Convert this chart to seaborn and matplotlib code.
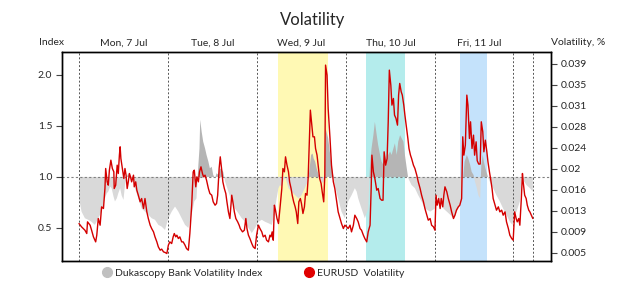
import matplotlib
matplotlib.use("Agg")
import matplotlib.pyplot as plt
from matplotlib.lines import Line2D
import numpy as np
import pandas as pd
import seaborn as sns

# ==================== data (hours from Mon 00:00) ====================
index_hours = [0, 0.7, 1.6, 2.5, 3.4, 4.3, 5.2, 6.1, 7.0, 7.5, 7.9, 8.4, 8.8, 9.3, 9.7, 10.2, 10.6, 11.1,
               11.5, 12.0, 12.4, 12.9, 13.3, 13.8, 14.2, 14.7, 15.1, 16.0, 16.9, 17.8, 18.7, 19.6, 20.5,
               21.4, 22.3, 23.2,
               24.1, 25.0, 25.9, 26.8, 27.7, 28.6, 29.5, 29.9, 30.4, 31.1, 31.7, 32.2, 32.5, 32.7, 33.1,
               33.5, 34.0, 34.4, 34.9, 35.3, 35.8, 36.2, 36.7, 37.1, 37.6, 38.0, 38.5, 38.9, 39.4, 40.3,
               41.2, 42.1, 43.0, 43.9, 44.8, 45.7, 46.6,
               47.5, 47.9, 48.4, 49.3, 50.2, 51.1, 52.0, 52.4, 52.9, 53.3, 53.8, 54.2, 54.7, 55.1, 55.6,
               56.0, 56.5, 57.4, 58.3, 59.2, 60.0, 60.9, 61.7, 62.1, 62.6, 63.0, 63.3, 63.7, 64.1, 64.5,
               65.0, 65.4, 65.9, 66.3, 66.5, 67.2, 68.1, 69.0, 69.9, 70.8, 71.7,
               72.6, 73.5, 74.4, 74.9, 75.3, 76.2, 77.1, 78.0, 78.5, 78.9, 79.4, 79.8, 80.3, 80.7, 81.2,
               81.6, 82.1, 82.5, 83.0, 83.4, 83.9, 84.3, 84.8, 85.2, 85.7, 86.1, 86.6, 87.0, 87.5, 87.9,
               88.4, 88.8, 89.7, 90.6, 91.5, 92.4, 93.3,
               94.7, 96.0, 96.5, 97.4, 98.3, 99.2, 100.1, 101.0, 101.9, 102.8, 103.5, 104.0, 104.6, 105.0,
               105.5, 105.9, 106.4, 106.8, 107.3, 107.7, 108.2, 108.5, 108.9, 109.2, 109.6, 110.0, 110.4,
               110.8, 111.7, 112.6, 113.5, 114.4, 115.3, 116.2, 116.9, 117.3, 118.0, 118.9, 119.4, 119.8,
               120.7, 121.6, 122.4]
index_values = [0.79, 0.66, 0.595, 0.58, 0.56, 0.53, 0.595, 0.66, 0.79, 0.84, 0.856, 0.905, 0.89, 0.81,
                0.76, 0.79, 0.84, 0.89, 0.82, 0.775, 0.92, 1.0, 1.036, 0.987, 1.0, 0.954, 0.89, 0.79,
                0.69, 0.66, 0.63, 0.595, 0.58, 0.53, 0.513, 0.48,
                0.595, 0.66, 0.71, 0.66, 0.595, 0.53, 0.50, 0.56, 0.63, 0.76, 0.79, 1.118, 1.28, 1.56,
                1.44, 1.346, 1.28, 1.216, 1.15, 1.085, 1.10, 1.02, 0.987, 1.036, 1.02, 1.085, 1.07, 1.05,
                0.954, 0.856, 0.76, 0.69, 0.644, 0.595, 0.56, 0.50, 0.45,
                0.50, 0.53, 0.56, 0.58, 0.56, 0.546, 0.53, 0.595, 0.69, 0.79, 0.89, 0.92, 0.905, 0.954,
                1.0, 0.954, 0.89, 0.856, 0.82, 0.79, 0.82, 0.89, 0.954, 1.05, 1.216, 1.23, 1.18, 1.15,
                1.085, 1.036, 0.987, 0.954, 0.94, 1.02, 1.477, 1.38, 1.118, 0.92, 0.79, 0.66, 0.595,
                0.76, 0.82, 0.89, 0.856, 0.79, 0.69, 0.595, 0.69, 1.118, 1.28, 1.41, 1.54, 1.41, 1.31,
                1.216, 1.15, 1.118, 1.216, 1.15, 1.216, 1.25, 1.216, 1.28, 1.33, 1.216, 1.346, 1.41,
                1.38, 1.346, 1.216, 1.085, 0.987, 0.92, 0.89, 0.82, 0.76, 0.69,
                0.66, 0.69, 0.82, 0.76, 0.69, 0.66, 0.63, 0.595, 0.66, 0.725, 0.954, 1.15, 1.216, 1.18,
                1.118, 1.05, 1.02, 0.954, 0.89, 0.82, 0.79, 1.118, 1.216, 1.15, 1.085, 1.036, 0.987,
                0.954, 0.89, 0.82, 0.76, 0.69, 0.63, 0.56, 0.53, 0.63, 0.66, 0.76, 0.987, 0.97, 0.92,
                0.89, 0.856]

vol_hours = [0, 0.7, 1.6, 2.1, 2.3, 3.0, 3.4, 3.9, 4.5, 4.8, 5.2, 5.7, 6.1, 6.6, 7.0, 7.2, 7.6, 7.9, 8.2,
             8.6, 9.0, 9.4, 9.5, 9.9, 10.3, 10.6, 10.9, 11.1, 11.3, 11.7, 12.1, 12.4, 12.7, 13.0, 13.3,
             13.6, 13.9, 14.2, 14.7, 14.9, 15.3, 15.6, 16.0, 16.5, 16.9, 17.4, 17.8, 18.3, 18.7, 19.2,
             19.6, 20.1, 20.5, 21.0, 21.4, 21.9, 22.3, 22.8, 23.2, 23.7,
             24.1, 24.5, 25.0, 25.4, 25.7, 26.1, 26.4, 26.8, 27.2, 27.7, 28.1, 28.6, 29.0, 29.5, 29.9,
             30.4, 30.8, 31.1, 31.5, 31.8, 32.2, 32.5, 32.9, 33.3, 33.6, 34.0, 34.4, 34.9, 35.3, 35.8,
             36.2, 36.7, 37.1, 37.4, 37.8, 38.1, 38.5, 38.8, 39.2, 39.6, 39.9, 40.3, 40.7, 41.2, 41.5,
             41.9, 42.3, 42.8, 43.2, 43.5, 44.1, 44.6, 45.0, 45.3, 45.7, 46.1, 46.6, 47.0, 47.5,
             47.9, 48.4, 48.8, 49.3, 49.7, 50.2, 50.6, 51.1, 51.5, 51.8, 52.1, 52.4, 52.7, 53.0, 53.4,
             53.8, 54.2, 54.7, 55.0, 55.4, 55.7, 56.1, 56.5, 56.8, 57.2, 57.5, 57.9, 58.3, 58.6, 59.0,
             59.3, 59.7, 60.0, 60.4, 60.8, 61.1, 61.5, 61.8, 62.1, 62.4, 62.7, 63.1, 63.5, 63.8, 64.2,
             64.5, 64.9, 65.3, 65.6, 66.0, 66.3, 66.5, 66.9, 67.2, 67.7, 68.1, 68.6, 69.0, 69.5, 69.9,
             70.4, 70.8, 71.3, 71.7,
             72.2, 72.6, 73.1, 73.5, 74.0, 74.4, 74.9, 75.3, 75.8, 76.2, 76.7, 77.1, 77.6, 78.0, 78.5,
             78.8, 79.0, 79.4, 79.8, 80.3, 80.7, 81.2, 81.6, 82.0, 82.3, 82.7, 83.1, 83.4, 83.7, 84.1,
             84.4, 84.8, 85.1, 85.5, 85.9, 86.2, 86.5, 86.9, 87.2, 87.6, 87.9, 88.3, 88.7, 89.0, 89.4,
             89.7, 90.2, 90.6, 91.1, 91.5, 92.0, 92.4, 92.9, 93.3, 93.8, 94.2,
             94.7, 95.1, 95.6, 96.0, 96.3, 96.6, 97.0, 97.4, 97.7, 98.1, 98.4, 98.7, 99.2, 99.6, 100.1,
             100.5, 101.0, 101.4, 101.8, 102.3, 102.7, 103.2, 103.5, 103.8, 104.2, 104.6, 104.9, 105.3,
             105.6, 106.0, 106.4, 106.7, 107.1, 107.4, 107.8, 108.2, 108.5, 108.9, 109.2, 109.6, 110.0,
             110.3, 110.7, 111.0, 111.4, 111.7, 112.2, 112.6, 113.1, 113.5, 114.0, 114.4, 114.9, 115.3,
             115.8, 116.2, 116.7, 117.1, 117.5, 117.9, 118.2, 118.6, 118.9, 119.3, 119.6, 119.8, 120.2,
             120.6, 120.9, 121.3, 121.6, 122.0, 122.4]
vol_values = [0.0103, 0.0097, 0.0091, 0.0085, 0.0106, 0.0100, 0.0091, 0.0079, 0.0070, 0.0082, 0.0112,
              0.0100, 0.0133, 0.0130, 0.0166, 0.0202, 0.0178, 0.0172, 0.0199, 0.0217, 0.0202, 0.0196,
              0.0166, 0.0172, 0.0208, 0.0193, 0.0226, 0.0241, 0.0220, 0.0202, 0.0184, 0.0202, 0.0190,
              0.0166, 0.0178, 0.0193, 0.0187, 0.0178, 0.0190, 0.0169, 0.0178, 0.0163, 0.0154, 0.0142,
              0.0148, 0.0130, 0.0148, 0.0124, 0.0112, 0.0100, 0.0094, 0.0088, 0.0079, 0.0070, 0.0061,
              0.0055, 0.0057, 0.0052, 0.0051, 0.0049,
              0.0064, 0.0070, 0.0067, 0.0079, 0.0085, 0.0079, 0.0082, 0.0076, 0.0079, 0.0070, 0.0070,
              0.0064, 0.0058, 0.0055, 0.0085, 0.0136, 0.0196, 0.0199, 0.0169, 0.0187, 0.0178, 0.0196,
              0.0205, 0.0193, 0.0187, 0.0190, 0.0181, 0.0166, 0.0157, 0.0154, 0.0142, 0.0136, 0.0139,
              0.0154, 0.0202, 0.0223, 0.0199, 0.0178, 0.0166, 0.0157, 0.0142, 0.0124, 0.0112, 0.0154,
              0.0142, 0.0124, 0.0112, 0.0106, 0.0100, 0.0094, 0.0088, 0.0091, 0.0112, 0.0094, 0.0082,
              0.0076, 0.0067, 0.0061, 0.0058,
              0.0082, 0.0100, 0.0094, 0.0088, 0.0079, 0.0082, 0.0073, 0.0070, 0.0082, 0.0079, 0.0088,
              0.0073, 0.0136, 0.0127, 0.0112, 0.0103, 0.0130, 0.0166, 0.0202, 0.0196, 0.0223, 0.0208,
              0.0196, 0.0178, 0.0166, 0.0154, 0.0142, 0.0133, 0.0124, 0.0103, 0.0142, 0.0148, 0.0139,
              0.0121, 0.0133, 0.0157, 0.0154, 0.0184, 0.0244, 0.0307, 0.0286, 0.0259, 0.0259, 0.0238,
              0.0226, 0.0208, 0.0184, 0.0175, 0.0160, 0.0142, 0.0190, 0.0388, 0.0370, 0.0310, 0.0256,
              0.0208, 0.0178, 0.0166, 0.0142, 0.0124, 0.0112, 0.0103, 0.0094, 0.0100,
              0.0097, 0.0094, 0.0100, 0.0088, 0.0100, 0.0118, 0.0112, 0.0106, 0.0094, 0.0091, 0.0082,
              0.0076, 0.0070, 0.0088, 0.0100, 0.0166, 0.0226, 0.0196, 0.0184, 0.0163, 0.0166, 0.0148,
              0.0145, 0.0145, 0.0232, 0.0208, 0.0220, 0.0286, 0.0379, 0.0352, 0.0316, 0.0328, 0.0298,
              0.0292, 0.0280, 0.0334, 0.0355, 0.0340, 0.0334, 0.0316, 0.0298, 0.0277, 0.0256, 0.0238,
              0.0226, 0.0220, 0.0208, 0.0202, 0.0190, 0.0178, 0.0166, 0.0154, 0.0142, 0.0130, 0.0118,
              0.0109,
              0.0112, 0.0100, 0.0097, 0.0091, 0.0154, 0.0136, 0.0148, 0.0130, 0.0148, 0.0133, 0.0154,
              0.0169, 0.0160, 0.0148, 0.0136, 0.0124, 0.0112, 0.0118, 0.0127, 0.0133, 0.0136, 0.0148,
              0.0259, 0.0226, 0.0244, 0.0334, 0.0316, 0.0256, 0.0286, 0.0238, 0.0262, 0.0226, 0.0250,
              0.0216, 0.0210, 0.0210, 0.0286, 0.0268, 0.0232, 0.0253, 0.0232, 0.0214, 0.0196, 0.0184,
              0.0166, 0.0148, 0.0136, 0.0127, 0.0133, 0.0124, 0.0127, 0.0118, 0.0124, 0.0106, 0.0094,
              0.0082, 0.0076, 0.0073, 0.0124, 0.0112, 0.0106, 0.0112, 0.0100, 0.0148, 0.0193, 0.0178,
              0.0154, 0.0148, 0.0136, 0.0127, 0.0124, 0.0118, 0.0112]

day_labels = ['Mon, 7 Jul', 'Tue, 8 Jul', 'Wed, 9 Jul', 'Thu, 10 Jul', 'Fri, 11 Jul']
day_starts = [0, 24, 48, 72, 96]
session_marks = [117, 122.4]
highlights = [(53.7, 67.2, '#fff9b4'), (77.4, 87.9, '#b4ecec'), (102.7, 110.0, '#c4e2fb')]
vol_ticks = [0.005, 0.009, 0.013, 0.016, 0.02, 0.024, 0.028, 0.031, 0.035, 0.039]

index_df = pd.DataFrame({'hour': index_hours, 'index': index_values})
vol_df = pd.DataFrame({'hour': vol_hours, 'vol': vol_values})

# ==================== style ====================
sns.set_style('white')
plt.rcParams['font.family'] = ['Lato', 'DejaVu Sans']

fig = plt.figure(figsize=(6.25, 2.81), dpi=100)
ax = fig.add_axes([0.0992, 0.0712, 0.7824, 0.7438])
ax2 = ax.twinx()

# shaded days
for x0, x1, c in highlights:
    ax.axvspan(x0, x1, color=c, lw=0, zorder=0)

# gray index area around the 1.0 level
x = index_df['hour'].to_numpy()
y = index_df['index'].to_numpy()
ax.fill_between(x, 1.0, y, where=y <= 1.0, interpolate=True, color='#d9d9d9', lw=0, zorder=1)
ax.fill_between(x, 1.0, y, where=y >= 1.0, interpolate=True, color='#b5b5b5', lw=0, zorder=1)

ax.axhline(1.0, color='#808080', ls=(0, (2, 2)), lw=0.8, zorder=2)
for d in day_starts + session_marks:
    ax.axvline(d, color='#555555', ls=(0, (2, 2)), lw=0.7, zorder=2)

ax.set_xlim(-4.58, 127.3)
ax.set_ylim(0.176, 2.225)
ax.set_yticks([0.5, 1.0, 1.5, 2.0])
ax.set_yticklabels(['0.5', '1.0', '1.5', '2.0'])
ax.set_xticks([])

# red volatility line on right axis
sns.lineplot(data=vol_df, x='hour', y='vol', ax=ax2, color='#d40000', lw=1.0, zorder=3)
ax2.set_ylim(0.00356, 0.04116)
ax2.set_yticks(np.linspace(0.005, 0.039, 10))
ax2.set_yticklabels([f'{v:g}' for v in vol_ticks])
ax2.set_xlabel('')
ax2.set_ylabel('')
ax.set_xlabel('')
ax.set_ylabel('')

for a in (ax, ax2):
    for s in a.spines.values():
        s.set_color('black')
        s.set_linewidth(1.0)
    a.tick_params(axis='y', length=4, width=0.8, color='#444444', labelsize=7.5, pad=3, direction='out')
ax.tick_params(left=True)
ax2.tick_params(right=True)

# day labels above the axes
for d, lab in zip(day_starts, day_labels):
    ax.text(d + 12, 1.02, lab, transform=ax.get_xaxis_transform(), ha='center', va='bottom', fontsize=7.5)

fig.text(0.083, 0.832, 'Index', ha='center', va='bottom', fontsize=7.5)
fig.text(0.925, 0.832, 'Volatility, %', ha='center', va='bottom', fontsize=7.5)
fig.text(0.5, 0.93, 'Volatility', ha='center', va='center', fontsize=12)

handles = [Line2D([], [], marker='o', ls='', color='#c0c0c0', markersize=7),
           Line2D([], [], marker='o', ls='', color='#e00000', markersize=7)]
fig.legend(handles, ['Dukascopy Bank Volatility Index', 'EURUSD  Volatility'], ncol=2,
           loc='center', bbox_to_anchor=(0.405, 0.027), frameon=False, fontsize=7.5,
           handletextpad=0.3, columnspacing=4.0, handlelength=1.0)

plt.savefig('out.png', dpi=100)
